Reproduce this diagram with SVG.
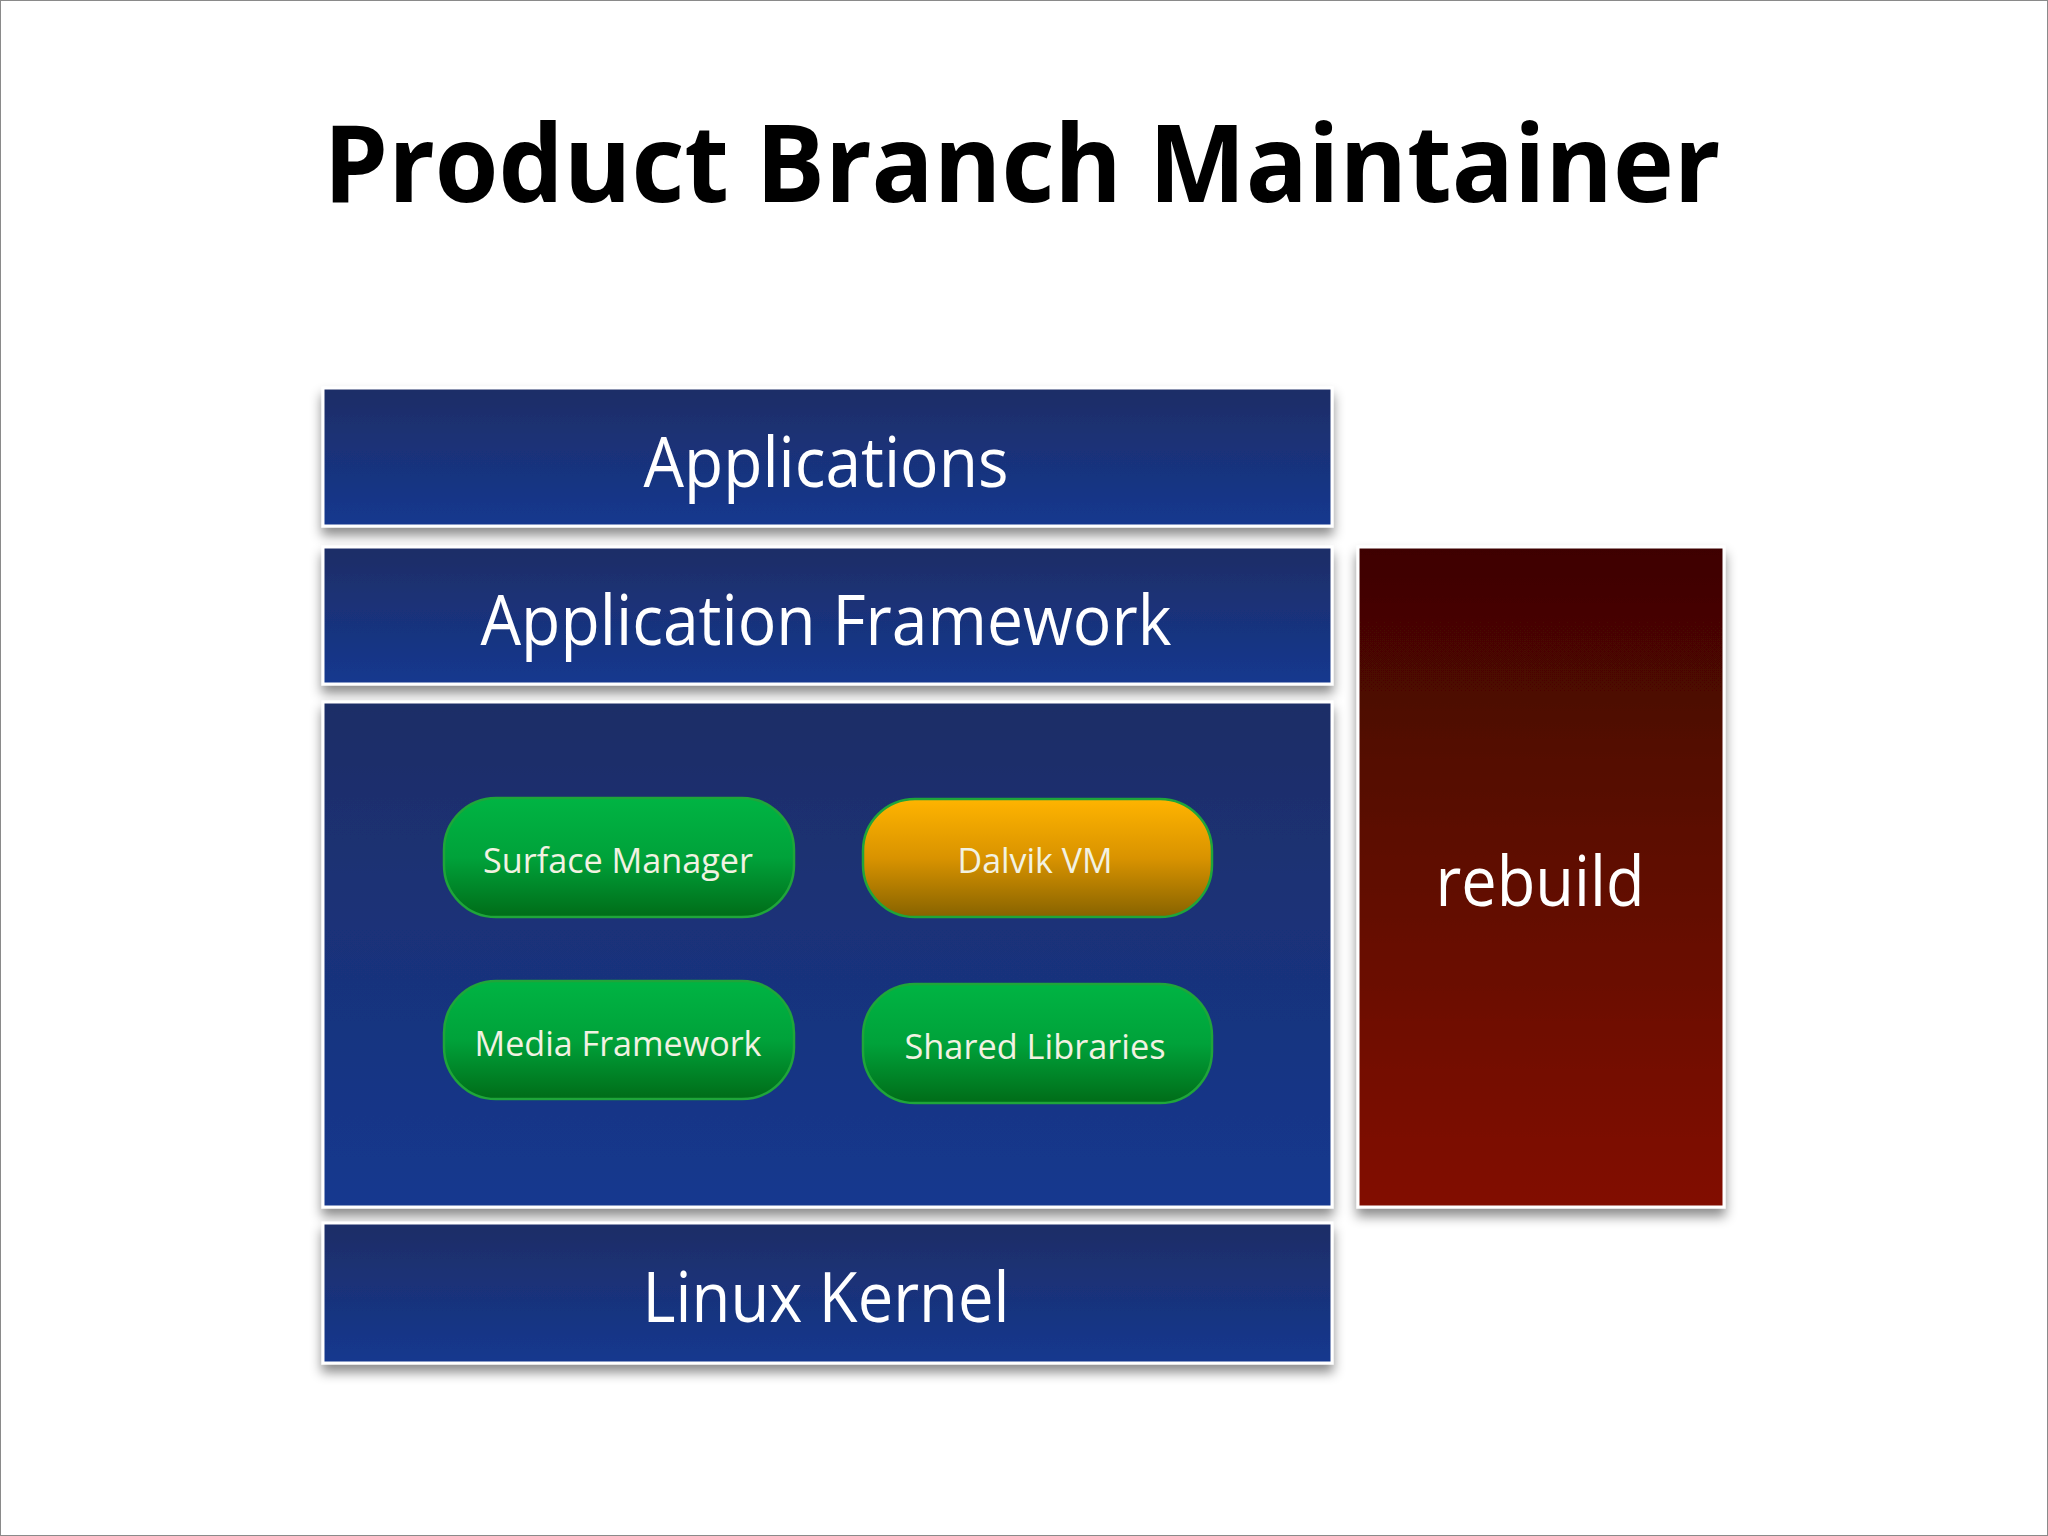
<svg xmlns="http://www.w3.org/2000/svg" width="2048" height="1536" viewBox="0 0 2048 1536">
  <defs>
    <linearGradient id="blueGrad" x1="0" y1="0" x2="0" y2="1">
      <stop offset="0" stop-color="#1e2d66"/>
      <stop offset="1" stop-color="#15388f"/>
    </linearGradient>
    <linearGradient id="redGrad" x1="0" y1="0" x2="0" y2="1">
      <stop offset="0" stop-color="#3e0505"/>
      <stop offset="1" stop-color="#820e00"/>
    </linearGradient>
    <linearGradient id="greenGrad" x1="0" y1="0" x2="0" y2="1">
      <stop offset="0" stop-color="#00b443"/>
      <stop offset="0.5" stop-color="#00a23a"/>
      <stop offset="1" stop-color="#006c18"/>
    </linearGradient>
    <linearGradient id="amberGrad" x1="0" y1="0" x2="0" y2="1">
      <stop offset="0" stop-color="#ffb400"/>
      <stop offset="0.5" stop-color="#d99300"/>
      <stop offset="1" stop-color="#876300"/>
    </linearGradient>
    <filter id="shadow" x="-10%" y="-10%" width="120%" height="130%">
      <feDropShadow dx="0" dy="8" stdDeviation="6" flood-color="#000" flood-opacity="0.45"/>
    </filter>
  </defs>
  <style>
    .layer { fill: url(#blueGrad); stroke: #ffffff; stroke-width: 3; filter: url(#shadow); }
    .red { fill: url(#redGrad); stroke: #ffffff; stroke-width: 3; filter: url(#shadow); }
    .pill { stroke: #1fa53a; stroke-width: 2.5; }
    .green { fill: url(#greenGrad); }
    .amber { fill: url(#amberGrad); }
    .big { font-family: "Open Sans", "Noto Sans", "DejaVu Sans", sans-serif; font-size: 69px; fill: #ffffff; text-anchor: middle; }
    .small { font-family: "Open Sans", "Noto Sans", "DejaVu Sans", sans-serif; font-size: 35px; fill: #f2f2e2; text-anchor: middle; }
    .title { font-family: "Open Sans", "Noto Sans", "DejaVu Sans", sans-serif; font-weight: bold; font-size: 108px; fill: #000000; text-anchor: middle; }
  </style>
  <rect x="0" y="0" width="2048" height="1536" fill="#ffffff"/>
  <rect x="0.5" y="0.5" width="2047" height="1535" fill="none" stroke="#8a8a8a" stroke-width="1"/>

  <text class="title" x="1022" y="202" textLength="1397" lengthAdjust="spacingAndGlyphs">Product Branch Maintainer</text>

  <g id="applications">
    <rect class="layer" x="323" y="388" width="1009" height="138"/>
    <text class="big" x="826" y="487" textLength="365" lengthAdjust="spacingAndGlyphs">Applications</text>
  </g>
  <g id="application-framework">
    <rect class="layer" x="323" y="547" width="1009" height="137"/>
    <text class="big" x="826" y="645" textLength="691" lengthAdjust="spacingAndGlyphs">Application Framework</text>
  </g>
  <g id="libraries-runtime">
    <rect class="layer" x="323" y="702" width="1009" height="505"/>
  </g>
  <g id="linux-kernel">
    <rect class="layer" x="323" y="1223" width="1009" height="140"/>
    <text class="big" x="826" y="1322" textLength="367" lengthAdjust="spacingAndGlyphs">Linux Kernel</text>
  </g>
  <g id="rebuild">
    <rect class="red" x="1358" y="547" width="366" height="660"/>
    <text class="big" x="1540" y="906" font-size="71" textLength="209" lengthAdjust="spacingAndGlyphs">rebuild</text>
  </g>

  <g id="surface-manager">
    <rect class="pill green" x="444" y="798" width="350" height="119" rx="52" ry="52"/>
    <text class="small" x="618" y="873" textLength="270" lengthAdjust="spacingAndGlyphs">Surface Manager</text>
  </g>
  <g id="dalvik-vm">
    <rect class="pill amber" x="863" y="799" width="349" height="118" rx="52" ry="52"/>
    <text class="small" x="1035" y="873" textLength="155" lengthAdjust="spacingAndGlyphs">Dalvik VM</text>
  </g>
  <g id="media-framework">
    <rect class="pill green" x="444" y="981" width="350" height="118" rx="52" ry="52"/>
    <text class="small" x="618" y="1056" textLength="287" lengthAdjust="spacingAndGlyphs">Media Framework</text>
  </g>
  <g id="shared-libraries">
    <rect class="pill green" x="863" y="984" width="349" height="119" rx="52" ry="52"/>
    <text class="small" x="1035" y="1059" textLength="261" lengthAdjust="spacingAndGlyphs">Shared Libraries</text>
  </g>

  <g id="connectors"/>
</svg>
